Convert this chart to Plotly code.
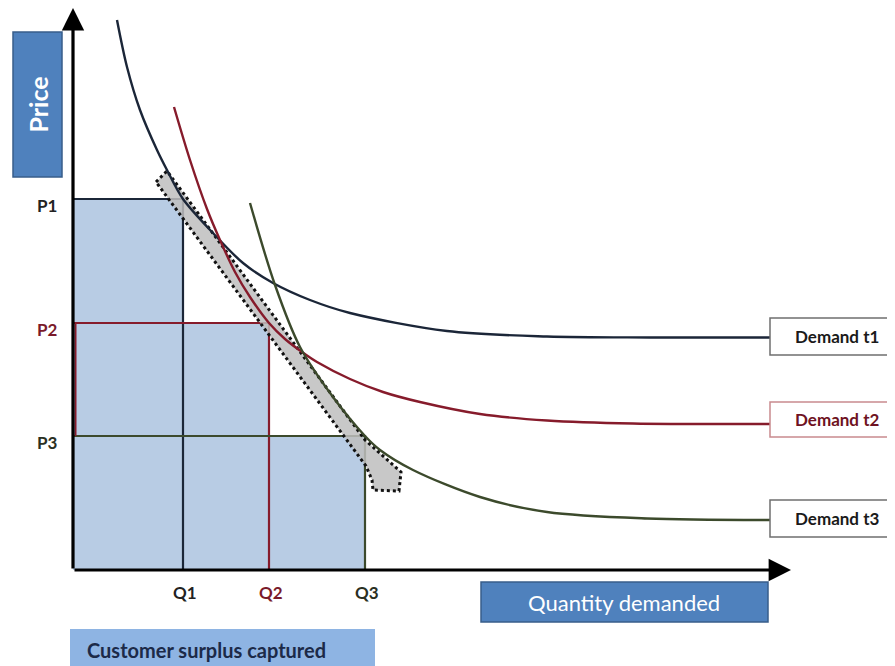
import plotly.graph_objects as go

# ---- Data (quantity / price units) ----
q_ticks = [11.0, 19.6, 29.2]
p_ticks = [37.1, 24.7, 13.4]
q_labels = ["Q1", "Q2", "Q3"]
p_labels = ["P1", "P2", "P3"]
demand_names = ["Demand t1", "Demand t2", "Demand t3"]

t1_q = [4.4, 5.4, 6.7, 8.4, 9.4, 11.0, 14.0, 17.0, 20.0, 23.7, 27.7, 37.4, 47.4, 57.7, 69.7]
t1_p = [55.0, 50.3, 46.0, 42.0, 40.0, 37.1, 33.7, 30.7, 28.7, 27.0, 25.7, 23.9, 23.35, 23.25, 23.25]

t2_q = [10.1, 11.7, 13.4, 14.7, 16.2, 17.7, 19.6, 21.2, 22.9, 24.4, 27.7, 31.0, 34.7, 40.7, 47.4, 56.0, 69.7]
t2_p = [46.3, 41.0, 36.1, 33.0, 29.8, 27.3, 24.7, 23.1, 21.8, 20.8, 19.1, 17.8, 16.8, 15.6, 14.95, 14.65, 14.6]

t3_q = [17.7, 20.2, 22.7, 26.0, 29.2, 30.7, 34.0, 40.7, 47.4, 57.4, 69.7]
t3_p = [36.7, 28.5, 22.3, 17.3, 13.4, 12.0, 10.0, 7.3, 5.8, 5.15, 5.0]

band_q = [8.3, 9.4, 29.2, 32.8, 32.6, 30.0, 29.9, 29.3, 8.3]
band_p = [38.8, 39.9, 13.0, 9.8, 7.9, 8.0, 9.0, 10.4, 38.8]

# ---- Styling ----
C1 = "#1b2638"
C2 = "#861b2b"
C3 = "#3c4a2c"
colors = [C1, C2, C3]
FILL = "#b8cce4"
FONT = "Lato"

fig = go.Figure()

# surplus area (union of three rectangles)
sq = [0, 0, q_ticks[0], q_ticks[0], q_ticks[1], q_ticks[1], q_ticks[2], q_ticks[2], 0]
sp = [0, p_ticks[0], p_ticks[0], p_ticks[1], p_ticks[1], p_ticks[2], p_ticks[2], 0, 0]
fig.add_trace(go.Scatter(x=sq, y=sp, mode="lines", fill="toself", fillcolor=FILL,
                         line=dict(width=0), hoverinfo="skip"))

# P / Q guide lines
for qv, pv, c in zip(q_ticks, p_ticks, colors):
    fig.add_trace(go.Scatter(x=[0, qv, qv], y=[pv, pv, 0], mode="lines",
                             line=dict(color=c, width=2.2), hoverinfo="skip"))
fig.add_trace(go.Scatter(x=[0.25, 0.25], y=[p_ticks[1], p_ticks[2]], mode="lines",
                         line=dict(color=C2, width=2), hoverinfo="skip"))

# grey band
fig.add_trace(go.Scatter(x=band_q, y=band_p, mode="lines", fill="toself",
                         fillcolor="rgba(190,190,190,0.85)",
                         line=dict(color="#111", width=3, dash="dot"), hoverinfo="skip"))

# demand curves
for qs, ps, c in [(t1_q, t1_p, C1), (t2_q, t2_p, C2), (t3_q, t3_p, C3)]:
    fig.add_trace(go.Scatter(x=qs, y=ps, mode="lines",
                             line=dict(color=c, width=2.4, shape="spline", smoothing=0.9),
                             hoverinfo="skip"))

shapes = []
# label boxes for demand curves
box_p = [(25.2, 21.5), (16.8, 13.3), (7.0, 3.3)]
box_border = ["#6f6f6f", "#c98a8f", "#6f6f6f"]
for (ptop, pbot), bc in zip(box_p, box_border):
    shapes.append(dict(type="rect", xref="x", yref="y", x0=69.7, x1=84, y0=pbot, y1=ptop,
                       fillcolor="white", line=dict(color=bc, width=1.5)))
# Price box
shapes.append(dict(type="rect", xref="x", yref="y", x0=-6.0, x1=-1.1, y0=39.3, y1=53.8,
                   fillcolor="#4f81bd", line=dict(color="#385d8a", width=1.5)))
# Quantity box
shapes.append(dict(type="rect", xref="x", yref="y", x0=40.8, x1=69.5, y0=-5.2, y1=-1.2,
                   fillcolor="#4f81bd", line=dict(color="#385d8a", width=1.5)))
# Customer surplus box
shapes.append(dict(type="rect", xref="x", yref="y", x0=-0.3, x1=30.2, y0=-11, y1=-5.9,
                   fillcolor="#8eb4e3", line=dict(width=0)))

ann = []
# axes arrows
ann.append(dict(x=0, y=56.2, ax=0, ay=0, xref="x", yref="y", axref="x", ayref="y",
                showarrow=True, arrowhead=2, arrowsize=1.4, arrowwidth=3.2, arrowcolor="#000",
                text=""))
ann.append(dict(x=71.8, y=0, ax=0, ay=0, xref="x", yref="y", axref="x", ayref="y",
                showarrow=True, arrowhead=2, arrowsize=1.4, arrowwidth=3.2, arrowcolor="#000",
                text=""))

p_colors = ["#222222", "#7a1a2a", "#2a2f22"]
q_colors = ["#222222", "#7a1a2a", "#2a2f22"]
for lab, pv, c in zip(p_labels, p_ticks, p_colors):
    ann.append(dict(x=-2.6, y=pv - 0.6, xref="x", yref="y", text=f"<b>{lab}</b>", showarrow=False,
                    font=dict(family=FONT, size=17, color=c)))
for lab, qv, c in zip(q_labels, q_ticks, q_colors):
    ann.append(dict(x=qv + 0.2, y=-2.2, xref="x", yref="y", text=f"<b>{lab}</b>", showarrow=False,
                    font=dict(family=FONT, size=17, color=c)))

name_colors = ["#1a1a1a", "#6e1222", "#1a1a1a"]
for name, (ptop, pbot), c in zip(demand_names, box_p, name_colors):
    ann.append(dict(x=76.4, y=(ptop + pbot) / 2, xref="x", yref="y", text=f"<b>{name}</b>",
                    showarrow=False, font=dict(family=FONT, size=17, color=c)))

ann.append(dict(x=-3.55, y=46.5, xref="x", yref="y", text="<b>Price</b>", textangle=-90,
                showarrow=False, font=dict(family=FONT, size=25, color="white")))
ann.append(dict(x=55.1, y=-3.2, xref="x", yref="y", text="Quantity demanded",
                showarrow=False, font=dict(family=FONT, size=22, color="white")))
ann.append(dict(x=1.2, y=-8.0, xref="x", yref="y", text="<b>Customer surplus captured</b>",
                xanchor="left", showarrow=False, font=dict(family=FONT, size=20, color="#1c2a48")))

# page body has an 8px margin: figure is 887x658 and its ranges start 8px in
fig.update_layout(
    width=887, height=658, margin=dict(l=0, r=0, t=0, b=0),
    paper_bgcolor="white", plot_bgcolor="white", showlegend=False,
    xaxis=dict(range=[-6.5, 82.2], visible=False, fixedrange=True),
    yaxis=dict(range=[-9.6, 56.2], visible=False, fixedrange=True),
    shapes=shapes, annotations=ann,
)

fig.write_html("out.html")
